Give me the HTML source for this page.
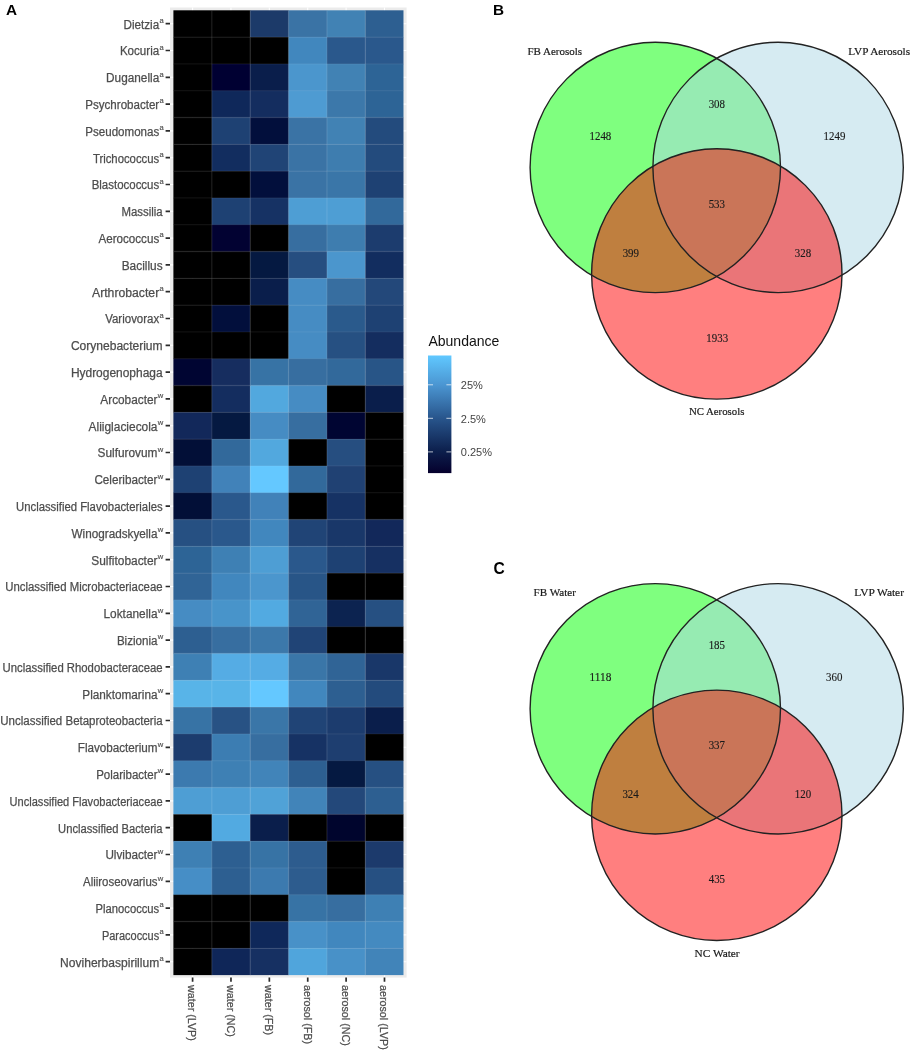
<!DOCTYPE html>
<html><head><meta charset="utf-8"><style>
html,body{margin:0;padding:0;background:#fff}
body{width:912px;height:1055px;position:relative;overflow:hidden}
svg{position:absolute;left:0;top:0}
.sans{font-family:"Liberation Sans",sans-serif}
.serif{font-family:"Liberation Serif",serif}
</style></head><body>
<svg width="912" height="1055" viewBox="0 0 912 1055" style="will-change:transform">
<text x="6.0" y="14.8" class="sans" font-weight="bold" font-size="15.3" fill="#000">A</text>
<text x="493.0" y="14.8" class="sans" font-weight="bold" font-size="15.3" fill="#000">B</text>
<text x="493.4" y="574.4" class="sans" font-weight="bold" font-size="15.6" fill="#000">C</text>
<rect x="170.0" y="7.5" width="236.60" height="970.10" fill="#ebebeb"/>
<path d="M170.0 23.70H406.6 M170.0 50.50H406.6 M170.0 77.30H406.6 M170.0 104.10H406.6 M170.0 130.90H406.6 M170.0 157.70H406.6 M170.0 184.50H406.6 M170.0 211.30H406.6 M170.0 238.10H406.6 M170.0 264.90H406.6 M170.0 291.70H406.6 M170.0 318.50H406.6 M170.0 345.30H406.6 M170.0 372.10H406.6 M170.0 398.90H406.6 M170.0 425.70H406.6 M170.0 452.50H406.6 M170.0 479.30H406.6 M170.0 506.10H406.6 M170.0 532.90H406.6 M170.0 559.70H406.6 M170.0 586.50H406.6 M170.0 613.30H406.6 M170.0 640.10H406.6 M170.0 666.90H406.6 M170.0 693.70H406.6 M170.0 720.50H406.6 M170.0 747.30H406.6 M170.0 774.10H406.6 M170.0 800.90H406.6 M170.0 827.70H406.6 M170.0 854.50H406.6 M170.0 881.30H406.6 M170.0 908.10H406.6 M170.0 934.90H406.6 M170.0 961.70H406.6 M192.59 7.5V977.6 M230.97 7.5V977.6 M269.35 7.5V977.6 M307.73 7.5V977.6 M346.11 7.5V977.6 M384.49 7.5V977.6" stroke="#fff" stroke-width="1.1" fill="none"/>
<rect x="173.40" y="10.30" width="38.68" height="27.10" fill="#000000"/><rect x="211.78" y="10.30" width="38.68" height="27.10" fill="#000000"/><rect x="250.16" y="10.30" width="38.68" height="27.10" fill="#1c3a69"/><rect x="288.54" y="10.30" width="38.68" height="27.10" fill="#3a73a5"/><rect x="326.92" y="10.30" width="38.68" height="27.10" fill="#4182b4"/><rect x="365.30" y="10.30" width="38.18" height="27.10" fill="#2d5f91"/>
<rect x="173.40" y="37.10" width="38.68" height="27.10" fill="#000000"/><rect x="211.78" y="37.10" width="38.68" height="27.10" fill="#000000"/><rect x="250.16" y="37.10" width="38.68" height="27.10" fill="#000000"/><rect x="288.54" y="37.10" width="38.68" height="27.10" fill="#4187be"/><rect x="326.92" y="37.10" width="38.68" height="27.10" fill="#2a588c"/><rect x="365.30" y="37.10" width="38.18" height="27.10" fill="#2a588c"/>
<rect x="173.40" y="63.90" width="38.68" height="27.10" fill="#000000"/><rect x="211.78" y="63.90" width="38.68" height="27.10" fill="#000032"/><rect x="250.16" y="63.90" width="38.68" height="27.10" fill="#0a1e4b"/><rect x="288.54" y="63.90" width="38.68" height="27.10" fill="#4b96cd"/><rect x="326.92" y="63.90" width="38.68" height="27.10" fill="#4182b4"/><rect x="365.30" y="63.90" width="38.18" height="27.10" fill="#2d6496"/>
<rect x="173.40" y="90.70" width="38.68" height="27.10" fill="#000000"/><rect x="211.78" y="90.70" width="38.68" height="27.10" fill="#0f285a"/><rect x="250.16" y="90.70" width="38.68" height="27.10" fill="#142d5f"/><rect x="288.54" y="90.70" width="38.68" height="27.10" fill="#4e9bd2"/><rect x="326.92" y="90.70" width="38.68" height="27.10" fill="#3c78aa"/><rect x="365.30" y="90.70" width="38.18" height="27.10" fill="#2d6496"/>
<rect x="173.40" y="117.50" width="38.68" height="27.10" fill="#000000"/><rect x="211.78" y="117.50" width="38.68" height="27.10" fill="#1e4173"/><rect x="250.16" y="117.50" width="38.68" height="27.10" fill="#020f3c"/><rect x="288.54" y="117.50" width="38.68" height="27.10" fill="#3a73a5"/><rect x="326.92" y="117.50" width="38.68" height="27.10" fill="#4182b4"/><rect x="365.30" y="117.50" width="38.18" height="27.10" fill="#234b7d"/>
<rect x="173.40" y="144.30" width="38.68" height="27.10" fill="#000000"/><rect x="211.78" y="144.30" width="38.68" height="27.10" fill="#122d5f"/><rect x="250.16" y="144.30" width="38.68" height="27.10" fill="#204476"/><rect x="288.54" y="144.30" width="38.68" height="27.10" fill="#3a73a5"/><rect x="326.92" y="144.30" width="38.68" height="27.10" fill="#3e7daf"/><rect x="365.30" y="144.30" width="38.18" height="27.10" fill="#234b7d"/>
<rect x="173.40" y="171.10" width="38.68" height="27.10" fill="#000000"/><rect x="211.78" y="171.10" width="38.68" height="27.10" fill="#000000"/><rect x="250.16" y="171.10" width="38.68" height="27.10" fill="#020f3c"/><rect x="288.54" y="171.10" width="38.68" height="27.10" fill="#3a73a5"/><rect x="326.92" y="171.10" width="38.68" height="27.10" fill="#3a76a8"/><rect x="365.30" y="171.10" width="38.18" height="27.10" fill="#1e4173"/>
<rect x="173.40" y="197.90" width="38.68" height="27.10" fill="#000000"/><rect x="211.78" y="197.90" width="38.68" height="27.10" fill="#1e4173"/><rect x="250.16" y="197.90" width="38.68" height="27.10" fill="#163264"/><rect x="288.54" y="197.90" width="38.68" height="27.10" fill="#4e9ed4"/><rect x="326.92" y="197.90" width="38.68" height="27.10" fill="#4e9ed4"/><rect x="365.30" y="197.90" width="38.18" height="27.10" fill="#32699b"/>
<rect x="173.40" y="224.70" width="38.68" height="27.10" fill="#000000"/><rect x="211.78" y="224.70" width="38.68" height="27.10" fill="#020232"/><rect x="250.16" y="224.70" width="38.68" height="27.10" fill="#000000"/><rect x="288.54" y="224.70" width="38.68" height="27.10" fill="#376ea0"/><rect x="326.92" y="224.70" width="38.68" height="27.10" fill="#3e7daf"/><rect x="365.30" y="224.70" width="38.18" height="27.10" fill="#1c3c6e"/>
<rect x="173.40" y="251.50" width="38.68" height="27.10" fill="#000000"/><rect x="211.78" y="251.50" width="38.68" height="27.10" fill="#000000"/><rect x="250.16" y="251.50" width="38.68" height="27.10" fill="#051941"/><rect x="288.54" y="251.50" width="38.68" height="27.10" fill="#264e80"/><rect x="326.92" y="251.50" width="38.68" height="27.10" fill="#4b96cd"/><rect x="365.30" y="251.50" width="38.18" height="27.10" fill="#122d5f"/>
<rect x="173.40" y="278.30" width="38.68" height="27.10" fill="#000000"/><rect x="211.78" y="278.30" width="38.68" height="27.10" fill="#000000"/><rect x="250.16" y="278.30" width="38.68" height="27.10" fill="#0a1e4b"/><rect x="288.54" y="278.30" width="38.68" height="27.10" fill="#468cc3"/><rect x="326.92" y="278.30" width="38.68" height="27.10" fill="#376ea0"/><rect x="365.30" y="278.30" width="38.18" height="27.10" fill="#23487a"/>
<rect x="173.40" y="305.10" width="38.68" height="27.10" fill="#000000"/><rect x="211.78" y="305.10" width="38.68" height="27.10" fill="#020f3c"/><rect x="250.16" y="305.10" width="38.68" height="27.10" fill="#000000"/><rect x="288.54" y="305.10" width="38.68" height="27.10" fill="#468cc3"/><rect x="326.92" y="305.10" width="38.68" height="27.10" fill="#2a5a8c"/><rect x="365.30" y="305.10" width="38.18" height="27.10" fill="#1e4173"/>
<rect x="173.40" y="331.90" width="38.68" height="27.10" fill="#000000"/><rect x="211.78" y="331.90" width="38.68" height="27.10" fill="#000000"/><rect x="250.16" y="331.90" width="38.68" height="27.10" fill="#000000"/><rect x="288.54" y="331.90" width="38.68" height="27.10" fill="#468cc3"/><rect x="326.92" y="331.90" width="38.68" height="27.10" fill="#265082"/><rect x="365.30" y="331.90" width="38.18" height="27.10" fill="#142d5f"/>
<rect x="173.40" y="358.70" width="38.68" height="27.10" fill="#000532"/><rect x="211.78" y="358.70" width="38.68" height="27.10" fill="#162d5f"/><rect x="250.16" y="358.70" width="38.68" height="27.10" fill="#3773a5"/><rect x="288.54" y="358.70" width="38.68" height="27.10" fill="#376ea0"/><rect x="326.92" y="358.70" width="38.68" height="27.10" fill="#32699b"/><rect x="365.30" y="358.70" width="38.18" height="27.10" fill="#285587"/>
<rect x="173.40" y="385.50" width="38.68" height="27.10" fill="#000000"/><rect x="211.78" y="385.50" width="38.68" height="27.10" fill="#142d5f"/><rect x="250.16" y="385.50" width="38.68" height="27.10" fill="#52a8de"/><rect x="288.54" y="385.50" width="38.68" height="27.10" fill="#468cc3"/><rect x="326.92" y="385.50" width="38.68" height="27.10" fill="#000000"/><rect x="365.30" y="385.50" width="38.18" height="27.10" fill="#0a1e4b"/>
<rect x="173.40" y="412.30" width="38.68" height="27.10" fill="#12285a"/><rect x="211.78" y="412.30" width="38.68" height="27.10" fill="#051941"/><rect x="250.16" y="412.30" width="38.68" height="27.10" fill="#468cc3"/><rect x="288.54" y="412.30" width="38.68" height="27.10" fill="#376ea0"/><rect x="326.92" y="412.30" width="38.68" height="27.10" fill="#000532"/><rect x="365.30" y="412.30" width="38.18" height="27.10" fill="#000000"/>
<rect x="173.40" y="439.10" width="38.68" height="27.10" fill="#020f37"/><rect x="211.78" y="439.10" width="38.68" height="27.10" fill="#32699b"/><rect x="250.16" y="439.10" width="38.68" height="27.10" fill="#52a8de"/><rect x="288.54" y="439.10" width="38.68" height="27.10" fill="#000000"/><rect x="326.92" y="439.10" width="38.68" height="27.10" fill="#264e80"/><rect x="365.30" y="439.10" width="38.18" height="27.10" fill="#000000"/>
<rect x="173.40" y="465.90" width="38.68" height="27.10" fill="#1e4173"/><rect x="211.78" y="465.90" width="38.68" height="27.10" fill="#4182b9"/><rect x="250.16" y="465.90" width="38.68" height="27.10" fill="#64c8ff"/><rect x="288.54" y="465.90" width="38.68" height="27.10" fill="#32699b"/><rect x="326.92" y="465.90" width="38.68" height="27.10" fill="#204173"/><rect x="365.30" y="465.90" width="38.18" height="27.10" fill="#000000"/>
<rect x="173.40" y="492.70" width="38.68" height="27.10" fill="#020f37"/><rect x="211.78" y="492.70" width="38.68" height="27.10" fill="#2a588c"/><rect x="250.16" y="492.70" width="38.68" height="27.10" fill="#4182b9"/><rect x="288.54" y="492.70" width="38.68" height="27.10" fill="#000000"/><rect x="326.92" y="492.70" width="38.68" height="27.10" fill="#163264"/><rect x="365.30" y="492.70" width="38.18" height="27.10" fill="#000000"/>
<rect x="173.40" y="519.50" width="38.68" height="27.10" fill="#265082"/><rect x="211.78" y="519.50" width="38.68" height="27.10" fill="#2a588c"/><rect x="250.16" y="519.50" width="38.68" height="27.10" fill="#4187be"/><rect x="288.54" y="519.50" width="38.68" height="27.10" fill="#204476"/><rect x="326.92" y="519.50" width="38.68" height="27.10" fill="#193769"/><rect x="365.30" y="519.50" width="38.18" height="27.10" fill="#12285a"/>
<rect x="173.40" y="546.30" width="38.68" height="27.10" fill="#2d6496"/><rect x="211.78" y="546.30" width="38.68" height="27.10" fill="#3e80b4"/><rect x="250.16" y="546.30" width="38.68" height="27.10" fill="#4e9ed4"/><rect x="288.54" y="546.30" width="38.68" height="27.10" fill="#2a588c"/><rect x="326.92" y="546.30" width="38.68" height="27.10" fill="#1e4173"/><rect x="365.30" y="546.30" width="38.18" height="27.10" fill="#163062"/>
<rect x="173.40" y="573.10" width="38.68" height="27.10" fill="#306496"/><rect x="211.78" y="573.10" width="38.68" height="27.10" fill="#4187be"/><rect x="250.16" y="573.10" width="38.68" height="27.10" fill="#4b96cd"/><rect x="288.54" y="573.10" width="38.68" height="27.10" fill="#285587"/><rect x="326.92" y="573.10" width="38.68" height="27.10" fill="#000000"/><rect x="365.30" y="573.10" width="38.18" height="27.10" fill="#000000"/>
<rect x="173.40" y="599.90" width="38.68" height="27.10" fill="#468cc3"/><rect x="211.78" y="599.90" width="38.68" height="27.10" fill="#4894ca"/><rect x="250.16" y="599.90" width="38.68" height="27.10" fill="#52aae1"/><rect x="288.54" y="599.90" width="38.68" height="27.10" fill="#306496"/><rect x="326.92" y="599.90" width="38.68" height="27.10" fill="#0c2350"/><rect x="365.30" y="599.90" width="38.18" height="27.10" fill="#265082"/>
<rect x="173.40" y="626.70" width="38.68" height="27.10" fill="#2d5f91"/><rect x="211.78" y="626.70" width="38.68" height="27.10" fill="#376ea0"/><rect x="250.16" y="626.70" width="38.68" height="27.10" fill="#3c78aa"/><rect x="288.54" y="626.70" width="38.68" height="27.10" fill="#204476"/><rect x="326.92" y="626.70" width="38.68" height="27.10" fill="#000000"/><rect x="365.30" y="626.70" width="38.18" height="27.10" fill="#000000"/>
<rect x="173.40" y="653.50" width="38.68" height="27.10" fill="#3e80b4"/><rect x="211.78" y="653.50" width="38.68" height="27.10" fill="#55ace4"/><rect x="250.16" y="653.50" width="38.68" height="27.10" fill="#55ace4"/><rect x="288.54" y="653.50" width="38.68" height="27.10" fill="#3a76a8"/><rect x="326.92" y="653.50" width="38.68" height="27.10" fill="#306496"/><rect x="365.30" y="653.50" width="38.18" height="27.10" fill="#193769"/>
<rect x="173.40" y="680.30" width="38.68" height="27.10" fill="#58b4e8"/><rect x="211.78" y="680.30" width="38.68" height="27.10" fill="#58b4e8"/><rect x="250.16" y="680.30" width="38.68" height="27.10" fill="#64c8ff"/><rect x="288.54" y="680.30" width="38.68" height="27.10" fill="#4187be"/><rect x="326.92" y="680.30" width="38.68" height="27.10" fill="#2d5f91"/><rect x="365.30" y="680.30" width="38.18" height="27.10" fill="#234b7d"/>
<rect x="173.40" y="707.10" width="38.68" height="27.10" fill="#3773a5"/><rect x="211.78" y="707.10" width="38.68" height="27.10" fill="#285284"/><rect x="250.16" y="707.10" width="38.68" height="27.10" fill="#3a76a8"/><rect x="288.54" y="707.10" width="38.68" height="27.10" fill="#204476"/><rect x="326.92" y="707.10" width="38.68" height="27.10" fill="#1c3c6e"/><rect x="365.30" y="707.10" width="38.18" height="27.10" fill="#0a1e4b"/>
<rect x="173.40" y="733.90" width="38.68" height="27.10" fill="#1c3c6e"/><rect x="211.78" y="733.90" width="38.68" height="27.10" fill="#3c7db2"/><rect x="250.16" y="733.90" width="38.68" height="27.10" fill="#376ea0"/><rect x="288.54" y="733.90" width="38.68" height="27.10" fill="#163264"/><rect x="326.92" y="733.90" width="38.68" height="27.10" fill="#1e3e70"/><rect x="365.30" y="733.90" width="38.18" height="27.10" fill="#000000"/>
<rect x="173.40" y="760.70" width="38.68" height="27.10" fill="#3c7aaf"/><rect x="211.78" y="760.70" width="38.68" height="27.10" fill="#3e80b4"/><rect x="250.16" y="760.70" width="38.68" height="27.10" fill="#4184b9"/><rect x="288.54" y="760.70" width="38.68" height="27.10" fill="#2d5f91"/><rect x="326.92" y="760.70" width="38.68" height="27.10" fill="#051941"/><rect x="365.30" y="760.70" width="38.18" height="27.10" fill="#265082"/>
<rect x="173.40" y="787.50" width="38.68" height="27.10" fill="#4e9ed4"/><rect x="211.78" y="787.50" width="38.68" height="27.10" fill="#4e9ed4"/><rect x="250.16" y="787.50" width="38.68" height="27.10" fill="#50a2d7"/><rect x="288.54" y="787.50" width="38.68" height="27.10" fill="#4184b9"/><rect x="326.92" y="787.50" width="38.68" height="27.10" fill="#23487a"/><rect x="365.30" y="787.50" width="38.18" height="27.10" fill="#2d5f91"/>
<rect x="173.40" y="814.30" width="38.68" height="27.10" fill="#000000"/><rect x="211.78" y="814.30" width="38.68" height="27.10" fill="#52aae1"/><rect x="250.16" y="814.30" width="38.68" height="27.10" fill="#0a1e4b"/><rect x="288.54" y="814.30" width="38.68" height="27.10" fill="#000000"/><rect x="326.92" y="814.30" width="38.68" height="27.10" fill="#00052d"/><rect x="365.30" y="814.30" width="38.18" height="27.10" fill="#000000"/>
<rect x="173.40" y="841.10" width="38.68" height="27.10" fill="#3e80b4"/><rect x="211.78" y="841.10" width="38.68" height="27.10" fill="#2d5f91"/><rect x="250.16" y="841.10" width="38.68" height="27.10" fill="#3773a5"/><rect x="288.54" y="841.10" width="38.68" height="27.10" fill="#2d5c8e"/><rect x="326.92" y="841.10" width="38.68" height="27.10" fill="#000000"/><rect x="365.30" y="841.10" width="38.18" height="27.10" fill="#1c3a6c"/>
<rect x="173.40" y="867.90" width="38.68" height="27.10" fill="#468ec6"/><rect x="211.78" y="867.90" width="38.68" height="27.10" fill="#2d5f91"/><rect x="250.16" y="867.90" width="38.68" height="27.10" fill="#3c7aaf"/><rect x="288.54" y="867.90" width="38.68" height="27.10" fill="#2d5c8e"/><rect x="326.92" y="867.90" width="38.68" height="27.10" fill="#000000"/><rect x="365.30" y="867.90" width="38.18" height="27.10" fill="#265082"/>
<rect x="173.40" y="894.70" width="38.68" height="27.10" fill="#000000"/><rect x="211.78" y="894.70" width="38.68" height="27.10" fill="#000000"/><rect x="250.16" y="894.70" width="38.68" height="27.10" fill="#000000"/><rect x="288.54" y="894.70" width="38.68" height="27.10" fill="#3773a5"/><rect x="326.92" y="894.70" width="38.68" height="27.10" fill="#376ea0"/><rect x="365.30" y="894.70" width="38.18" height="27.10" fill="#3e80b4"/>
<rect x="173.40" y="921.50" width="38.68" height="27.10" fill="#000000"/><rect x="211.78" y="921.50" width="38.68" height="27.10" fill="#000000"/><rect x="250.16" y="921.50" width="38.68" height="27.10" fill="#0f285a"/><rect x="288.54" y="921.50" width="38.68" height="27.10" fill="#4891c8"/><rect x="326.92" y="921.50" width="38.68" height="27.10" fill="#4187be"/><rect x="365.30" y="921.50" width="38.18" height="27.10" fill="#448ac0"/>
<rect x="173.40" y="948.30" width="38.68" height="26.80" fill="#000000"/><rect x="211.78" y="948.30" width="38.68" height="26.80" fill="#0f2658"/><rect x="250.16" y="948.30" width="38.68" height="26.80" fill="#163062"/><rect x="288.54" y="948.30" width="38.68" height="26.80" fill="#50a5dc"/><rect x="326.92" y="948.30" width="38.68" height="26.80" fill="#4891c8"/><rect x="365.30" y="948.30" width="38.18" height="26.80" fill="#4184b9"/>
<path d="M211.78 10.30V975.10 M250.16 10.30V975.10 M288.54 10.30V975.10 M326.92 10.30V975.10 M365.30 10.30V975.10" stroke="#fff" stroke-opacity="0.11" stroke-width="1.3" fill="none"/>
<path d="M173.40 37.10H403.68 M173.40 63.90H403.68 M173.40 90.70H403.68 M173.40 117.50H403.68 M173.40 144.30H403.68 M173.40 171.10H403.68 M173.40 197.90H403.68 M173.40 224.70H403.68 M173.40 251.50H403.68 M173.40 278.30H403.68 M173.40 305.10H403.68 M173.40 331.90H403.68 M173.40 358.70H403.68 M173.40 385.50H403.68 M173.40 412.30H403.68 M173.40 439.10H403.68 M173.40 465.90H403.68 M173.40 492.70H403.68 M173.40 519.50H403.68 M173.40 546.30H403.68 M173.40 573.10H403.68 M173.40 599.90H403.68 M173.40 626.70H403.68 M173.40 653.50H403.68 M173.40 680.30H403.68 M173.40 707.10H403.68 M173.40 733.90H403.68 M173.40 760.70H403.68 M173.40 787.50H403.68 M173.40 814.30H403.68 M173.40 841.10H403.68 M173.40 867.90H403.68 M173.40 894.70H403.68 M173.40 921.50H403.68 M173.40 948.30H403.68" stroke="#fff" stroke-opacity="0.065" stroke-width="1.3" fill="none"/>
<path d="M165.6 23.70H170 M165.6 50.50H170 M165.6 77.30H170 M165.6 104.10H170 M165.6 130.90H170 M165.6 157.70H170 M165.6 184.50H170 M165.6 211.30H170 M165.6 238.10H170 M165.6 264.90H170 M165.6 291.70H170 M165.6 318.50H170 M165.6 345.30H170 M165.6 372.10H170 M165.6 398.90H170 M165.6 425.70H170 M165.6 452.50H170 M165.6 479.30H170 M165.6 506.10H170 M165.6 532.90H170 M165.6 559.70H170 M165.6 586.50H170 M165.6 613.30H170 M165.6 640.10H170 M165.6 666.90H170 M165.6 693.70H170 M165.6 720.50H170 M165.6 747.30H170 M165.6 774.10H170 M165.6 800.90H170 M165.6 827.70H170 M165.6 854.50H170 M165.6 881.30H170 M165.6 908.10H170 M165.6 934.90H170 M165.6 961.70H170 M192.59 977.4V981.8 M230.97 977.4V981.8 M269.35 977.4V981.8 M307.73 977.4V981.8 M346.11 977.4V981.8 M384.49 977.4V981.8" stroke="#2b2b2b" stroke-width="1.7" fill="none"/>
<text x="123.50" y="28.50" textLength="35.70" lengthAdjust="spacingAndGlyphs" class="sans" font-size="12" fill="#4d4d4d" stroke="#4d4d4d" stroke-width="0.25">Dietzia</text><text x="159.60" y="22.90" class="sans" font-size="7.6" fill="#4d4d4d" stroke="#4d4d4d" stroke-width="0.15">a</text>
<text x="119.90" y="55.30" textLength="39.30" lengthAdjust="spacingAndGlyphs" class="sans" font-size="12" fill="#4d4d4d" stroke="#4d4d4d" stroke-width="0.25">Kocuria</text><text x="159.60" y="49.70" class="sans" font-size="7.6" fill="#4d4d4d" stroke="#4d4d4d" stroke-width="0.15">a</text>
<text x="106.10" y="82.10" textLength="53.10" lengthAdjust="spacingAndGlyphs" class="sans" font-size="12" fill="#4d4d4d" stroke="#4d4d4d" stroke-width="0.25">Duganella</text><text x="159.60" y="76.50" class="sans" font-size="7.6" fill="#4d4d4d" stroke="#4d4d4d" stroke-width="0.15">a</text>
<text x="85.30" y="108.90" textLength="73.90" lengthAdjust="spacingAndGlyphs" class="sans" font-size="12" fill="#4d4d4d" stroke="#4d4d4d" stroke-width="0.25">Psychrobacter</text><text x="159.60" y="103.30" class="sans" font-size="7.6" fill="#4d4d4d" stroke="#4d4d4d" stroke-width="0.15">a</text>
<text x="85.30" y="135.70" textLength="73.90" lengthAdjust="spacingAndGlyphs" class="sans" font-size="12" fill="#4d4d4d" stroke="#4d4d4d" stroke-width="0.25">Pseudomonas</text><text x="159.60" y="130.10" class="sans" font-size="7.6" fill="#4d4d4d" stroke="#4d4d4d" stroke-width="0.15">a</text>
<text x="92.90" y="162.50" textLength="66.30" lengthAdjust="spacingAndGlyphs" class="sans" font-size="12" fill="#4d4d4d" stroke="#4d4d4d" stroke-width="0.25">Trichococcus</text><text x="159.60" y="156.90" class="sans" font-size="7.6" fill="#4d4d4d" stroke="#4d4d4d" stroke-width="0.15">a</text>
<text x="91.70" y="189.30" textLength="67.50" lengthAdjust="spacingAndGlyphs" class="sans" font-size="12" fill="#4d4d4d" stroke="#4d4d4d" stroke-width="0.25">Blastococcus</text><text x="159.60" y="183.70" class="sans" font-size="7.6" fill="#4d4d4d" stroke="#4d4d4d" stroke-width="0.15">a</text>
<text x="121.40" y="216.10" textLength="41.20" lengthAdjust="spacingAndGlyphs" class="sans" font-size="12" fill="#4d4d4d" stroke="#4d4d4d" stroke-width="0.25">Massilia</text>
<text x="98.50" y="242.90" textLength="60.70" lengthAdjust="spacingAndGlyphs" class="sans" font-size="12" fill="#4d4d4d" stroke="#4d4d4d" stroke-width="0.25">Aerococcus</text><text x="159.60" y="237.30" class="sans" font-size="7.6" fill="#4d4d4d" stroke="#4d4d4d" stroke-width="0.15">a</text>
<text x="121.70" y="269.70" textLength="40.90" lengthAdjust="spacingAndGlyphs" class="sans" font-size="12" fill="#4d4d4d" stroke="#4d4d4d" stroke-width="0.25">Bacillus</text>
<text x="92.00" y="296.50" textLength="67.20" lengthAdjust="spacingAndGlyphs" class="sans" font-size="12" fill="#4d4d4d" stroke="#4d4d4d" stroke-width="0.25">Arthrobacter</text><text x="159.60" y="290.90" class="sans" font-size="7.6" fill="#4d4d4d" stroke="#4d4d4d" stroke-width="0.15">a</text>
<text x="105.20" y="323.30" textLength="54.00" lengthAdjust="spacingAndGlyphs" class="sans" font-size="12" fill="#4d4d4d" stroke="#4d4d4d" stroke-width="0.25">Variovorax</text><text x="159.60" y="317.70" class="sans" font-size="7.6" fill="#4d4d4d" stroke="#4d4d4d" stroke-width="0.15">a</text>
<text x="70.90" y="350.10" textLength="91.70" lengthAdjust="spacingAndGlyphs" class="sans" font-size="12" fill="#4d4d4d" stroke="#4d4d4d" stroke-width="0.25">Corynebacterium</text>
<text x="70.90" y="376.90" textLength="91.70" lengthAdjust="spacingAndGlyphs" class="sans" font-size="12" fill="#4d4d4d" stroke="#4d4d4d" stroke-width="0.25">Hydrogenophaga</text>
<text x="100.30" y="403.70" textLength="57.20" lengthAdjust="spacingAndGlyphs" class="sans" font-size="12" fill="#4d4d4d" stroke="#4d4d4d" stroke-width="0.25">Arcobacter</text><text x="157.80" y="398.10" class="sans" font-size="7.6" fill="#4d4d4d" stroke="#4d4d4d" stroke-width="0.15">w</text>
<text x="88.60" y="430.50" textLength="68.90" lengthAdjust="spacingAndGlyphs" class="sans" font-size="12" fill="#4d4d4d" stroke="#4d4d4d" stroke-width="0.25">Aliiglaciecola</text><text x="157.80" y="424.90" class="sans" font-size="7.6" fill="#4d4d4d" stroke="#4d4d4d" stroke-width="0.15">w</text>
<text x="97.60" y="457.30" textLength="59.90" lengthAdjust="spacingAndGlyphs" class="sans" font-size="12" fill="#4d4d4d" stroke="#4d4d4d" stroke-width="0.25">Sulfurovum</text><text x="157.80" y="451.70" class="sans" font-size="7.6" fill="#4d4d4d" stroke="#4d4d4d" stroke-width="0.15">w</text>
<text x="94.40" y="484.10" textLength="63.10" lengthAdjust="spacingAndGlyphs" class="sans" font-size="12" fill="#4d4d4d" stroke="#4d4d4d" stroke-width="0.25">Celeribacter</text><text x="157.80" y="478.50" class="sans" font-size="7.6" fill="#4d4d4d" stroke="#4d4d4d" stroke-width="0.15">w</text>
<text x="16.00" y="510.90" textLength="146.60" lengthAdjust="spacingAndGlyphs" class="sans" font-size="12" fill="#4d4d4d" stroke="#4d4d4d" stroke-width="0.25">Unclassified Flavobacteriales</text>
<text x="71.50" y="537.70" textLength="86.00" lengthAdjust="spacingAndGlyphs" class="sans" font-size="12" fill="#4d4d4d" stroke="#4d4d4d" stroke-width="0.25">Winogradskyella</text><text x="157.80" y="532.10" class="sans" font-size="7.6" fill="#4d4d4d" stroke="#4d4d4d" stroke-width="0.15">w</text>
<text x="91.30" y="564.50" textLength="66.20" lengthAdjust="spacingAndGlyphs" class="sans" font-size="12" fill="#4d4d4d" stroke="#4d4d4d" stroke-width="0.25">Sulfitobacter</text><text x="157.80" y="558.90" class="sans" font-size="7.6" fill="#4d4d4d" stroke="#4d4d4d" stroke-width="0.15">w</text>
<text x="5.20" y="591.30" textLength="157.40" lengthAdjust="spacingAndGlyphs" class="sans" font-size="12" fill="#4d4d4d" stroke="#4d4d4d" stroke-width="0.25">Unclassified Microbacteriaceae</text>
<text x="103.50" y="618.10" textLength="54.00" lengthAdjust="spacingAndGlyphs" class="sans" font-size="12" fill="#4d4d4d" stroke="#4d4d4d" stroke-width="0.25">Loktanella</text><text x="157.80" y="612.50" class="sans" font-size="7.6" fill="#4d4d4d" stroke="#4d4d4d" stroke-width="0.15">w</text>
<text x="116.90" y="644.90" textLength="40.60" lengthAdjust="spacingAndGlyphs" class="sans" font-size="12" fill="#4d4d4d" stroke="#4d4d4d" stroke-width="0.25">Bizionia</text><text x="157.80" y="639.30" class="sans" font-size="7.6" fill="#4d4d4d" stroke="#4d4d4d" stroke-width="0.15">w</text>
<text x="2.60" y="671.70" textLength="160.00" lengthAdjust="spacingAndGlyphs" class="sans" font-size="12" fill="#4d4d4d" stroke="#4d4d4d" stroke-width="0.25">Unclassified Rhodobacteraceae</text>
<text x="82.30" y="698.50" textLength="75.20" lengthAdjust="spacingAndGlyphs" class="sans" font-size="12" fill="#4d4d4d" stroke="#4d4d4d" stroke-width="0.25">Planktomarina</text><text x="157.80" y="692.90" class="sans" font-size="7.6" fill="#4d4d4d" stroke="#4d4d4d" stroke-width="0.15">w</text>
<text x="0.30" y="725.30" textLength="162.30" lengthAdjust="spacingAndGlyphs" class="sans" font-size="12" fill="#4d4d4d" stroke="#4d4d4d" stroke-width="0.25">Unclassified Betaproteobacteria</text>
<text x="77.80" y="752.10" textLength="79.70" lengthAdjust="spacingAndGlyphs" class="sans" font-size="12" fill="#4d4d4d" stroke="#4d4d4d" stroke-width="0.25">Flavobacterium</text><text x="157.80" y="746.50" class="sans" font-size="7.6" fill="#4d4d4d" stroke="#4d4d4d" stroke-width="0.15">w</text>
<text x="96.20" y="778.90" textLength="61.30" lengthAdjust="spacingAndGlyphs" class="sans" font-size="12" fill="#4d4d4d" stroke="#4d4d4d" stroke-width="0.25">Polaribacter</text><text x="157.80" y="773.30" class="sans" font-size="7.6" fill="#4d4d4d" stroke="#4d4d4d" stroke-width="0.15">w</text>
<text x="9.60" y="805.70" textLength="153.00" lengthAdjust="spacingAndGlyphs" class="sans" font-size="12" fill="#4d4d4d" stroke="#4d4d4d" stroke-width="0.25">Unclassified Flavobacteriaceae</text>
<text x="58.10" y="832.50" textLength="104.50" lengthAdjust="spacingAndGlyphs" class="sans" font-size="12" fill="#4d4d4d" stroke="#4d4d4d" stroke-width="0.25">Unclassified Bacteria</text>
<text x="105.40" y="859.30" textLength="52.10" lengthAdjust="spacingAndGlyphs" class="sans" font-size="12" fill="#4d4d4d" stroke="#4d4d4d" stroke-width="0.25">Ulvibacter</text><text x="157.80" y="853.70" class="sans" font-size="7.6" fill="#4d4d4d" stroke="#4d4d4d" stroke-width="0.15">w</text>
<text x="83.00" y="886.10" textLength="74.50" lengthAdjust="spacingAndGlyphs" class="sans" font-size="12" fill="#4d4d4d" stroke="#4d4d4d" stroke-width="0.25">Aliiroseovarius</text><text x="157.80" y="880.50" class="sans" font-size="7.6" fill="#4d4d4d" stroke="#4d4d4d" stroke-width="0.15">w</text>
<text x="95.60" y="912.90" textLength="63.60" lengthAdjust="spacingAndGlyphs" class="sans" font-size="12" fill="#4d4d4d" stroke="#4d4d4d" stroke-width="0.25">Planococcus</text><text x="159.60" y="907.30" class="sans" font-size="7.6" fill="#4d4d4d" stroke="#4d4d4d" stroke-width="0.15">a</text>
<text x="101.90" y="939.70" textLength="57.30" lengthAdjust="spacingAndGlyphs" class="sans" font-size="12" fill="#4d4d4d" stroke="#4d4d4d" stroke-width="0.25">Paracoccus</text><text x="159.60" y="934.10" class="sans" font-size="7.6" fill="#4d4d4d" stroke="#4d4d4d" stroke-width="0.15">a</text>
<text x="60.10" y="966.50" textLength="99.10" lengthAdjust="spacingAndGlyphs" class="sans" font-size="12" fill="#4d4d4d" stroke="#4d4d4d" stroke-width="0.25">Noviherbaspirillum</text><text x="159.60" y="960.90" class="sans" font-size="7.6" fill="#4d4d4d" stroke="#4d4d4d" stroke-width="0.15">a</text>
<g transform="translate(192.59 985) rotate(90) scale(0.934 1)"><text x="0" y="4.2" class="sans" font-size="11.5" fill="#4d4d4d" stroke="#4d4d4d" stroke-width="0.25">water (LVP)</text></g>
<g transform="translate(230.97 985) rotate(90) scale(0.934 1)"><text x="0" y="4.2" class="sans" font-size="11.5" fill="#4d4d4d" stroke="#4d4d4d" stroke-width="0.25">water (NC)</text></g>
<g transform="translate(269.35 985) rotate(90) scale(0.934 1)"><text x="0" y="4.2" class="sans" font-size="11.5" fill="#4d4d4d" stroke="#4d4d4d" stroke-width="0.25">water (FB)</text></g>
<g transform="translate(307.73 985) rotate(90) scale(0.934 1)"><text x="0" y="4.2" class="sans" font-size="11.5" fill="#4d4d4d" stroke="#4d4d4d" stroke-width="0.25">aerosol (FB)</text></g>
<g transform="translate(346.11 985) rotate(90) scale(0.934 1)"><text x="0" y="4.2" class="sans" font-size="11.5" fill="#4d4d4d" stroke="#4d4d4d" stroke-width="0.25">aerosol (NC)</text></g>
<g transform="translate(384.49 985) rotate(90) scale(0.934 1)"><text x="0" y="4.2" class="sans" font-size="11.5" fill="#4d4d4d" stroke="#4d4d4d" stroke-width="0.25">aerosol (LVP)</text></g>
<defs><linearGradient id="lg" x1="0" y1="0" x2="0" y2="1">
<stop offset="0" stop-color="#60c8ff"/>
<stop offset="0.249" stop-color="#4b96d2"/>
<stop offset="0.534" stop-color="#28558c"/>
<stop offset="0.82" stop-color="#0c1e4b"/>
<stop offset="1" stop-color="#05002d"/>
</linearGradient></defs>
<rect x="428" y="355.5" width="23.4" height="117.6" fill="url(#lg)"/>
<path d="M428 384.8h5M446.4 384.8h5M428 418.3h5M446.4 418.3h5M428 451.9h5M446.4 451.9h5" stroke="#fff" stroke-opacity="0.7" stroke-width="1"/>
<text x="428.4" y="345.7" class="sans" font-size="15" fill="#111" textLength="71" lengthAdjust="spacingAndGlyphs">Abundance</text>
<text x="460.8" y="389.2" class="sans" font-size="11" fill="#444">25%</text>
<text x="460.8" y="422.7" class="sans" font-size="11" fill="#444">2.5%</text>
<text x="460.8" y="456.3" class="sans" font-size="11" fill="#444">0.25%</text>
</svg>
<svg width="912" height="1055" viewBox="0 0 912 1055">
<circle cx="655.3" cy="167.4" r="125.2" fill="#00ff00" fill-opacity="0.5"/>
<circle cx="778.1" cy="167.4" r="125.2" fill="#add8e6" fill-opacity="0.5"/>
<circle cx="716.8" cy="273.9" r="125.2" fill="#ff0000" fill-opacity="0.5"/>
<circle cx="655.3" cy="167.4" r="125.2" fill="none" stroke="#222" stroke-width="1.4"/>
<circle cx="778.1" cy="167.4" r="125.2" fill="none" stroke="#222" stroke-width="1.4"/>
<circle cx="716.8" cy="273.9" r="125.2" fill="none" stroke="#222" stroke-width="1.4"/>
<text x="527.4000000000001" y="55.1" class="serif" font-size="11.3" fill="#1a1a1a" stroke="#1a1a1a" stroke-width="0.2" textLength="54.6" lengthAdjust="spacingAndGlyphs">FB Aerosols</text>
<text x="848.2" y="55.0" class="serif" font-size="11.3" fill="#1a1a1a" stroke="#1a1a1a" stroke-width="0.2" textLength="61.9" lengthAdjust="spacingAndGlyphs">LVP Aerosols</text>
<text x="688.9000000000001" y="415.3" class="serif" font-size="11.3" fill="#1a1a1a" stroke="#1a1a1a" stroke-width="0.2" textLength="55.5" lengthAdjust="spacingAndGlyphs">NC Aerosols</text>
<text x="600.4" y="139.85" text-anchor="middle" class="serif" font-size="12" fill="#1a1a1a" stroke="#1a1a1a" stroke-width="0.15" textLength="21.80" lengthAdjust="spacingAndGlyphs">1248</text>
<text x="716.8" y="108.3" text-anchor="middle" class="serif" font-size="12" fill="#1a1a1a" stroke="#1a1a1a" stroke-width="0.15" textLength="16.35" lengthAdjust="spacingAndGlyphs">308</text>
<text x="834.5" y="139.8" text-anchor="middle" class="serif" font-size="12" fill="#1a1a1a" stroke="#1a1a1a" stroke-width="0.15" textLength="21.80" lengthAdjust="spacingAndGlyphs">1249</text>
<text x="716.8" y="207.5" text-anchor="middle" class="serif" font-size="12" fill="#1a1a1a" stroke="#1a1a1a" stroke-width="0.15" textLength="16.35" lengthAdjust="spacingAndGlyphs">533</text>
<text x="630.8" y="257.0" text-anchor="middle" class="serif" font-size="12" fill="#1a1a1a" stroke="#1a1a1a" stroke-width="0.15" textLength="16.35" lengthAdjust="spacingAndGlyphs">399</text>
<text x="803.0" y="257.0" text-anchor="middle" class="serif" font-size="12" fill="#1a1a1a" stroke="#1a1a1a" stroke-width="0.15" textLength="16.35" lengthAdjust="spacingAndGlyphs">328</text>
<text x="717.2" y="342.0" text-anchor="middle" class="serif" font-size="12" fill="#1a1a1a" stroke="#1a1a1a" stroke-width="0.15" textLength="21.80" lengthAdjust="spacingAndGlyphs">1933</text>
<circle cx="655.3" cy="708.8" r="125.2" fill="#00ff00" fill-opacity="0.5"/>
<circle cx="778.1" cy="708.8" r="125.2" fill="#add8e6" fill-opacity="0.5"/>
<circle cx="716.8" cy="815.3" r="125.2" fill="#ff0000" fill-opacity="0.5"/>
<circle cx="655.3" cy="708.8" r="125.2" fill="none" stroke="#222" stroke-width="1.4"/>
<circle cx="778.1" cy="708.8" r="125.2" fill="none" stroke="#222" stroke-width="1.4"/>
<circle cx="716.8" cy="815.3" r="125.2" fill="none" stroke="#222" stroke-width="1.4"/>
<text x="533.6" y="596.4" class="serif" font-size="11.3" fill="#1a1a1a" stroke="#1a1a1a" stroke-width="0.2" textLength="42.3" lengthAdjust="spacingAndGlyphs">FB Water</text>
<text x="854.3000000000001" y="596.4" class="serif" font-size="11.3" fill="#1a1a1a" stroke="#1a1a1a" stroke-width="0.2" textLength="49.7" lengthAdjust="spacingAndGlyphs">LVP Water</text>
<text x="694.6" y="956.5999999999999" class="serif" font-size="11.3" fill="#1a1a1a" stroke="#1a1a1a" stroke-width="0.2" textLength="45.0" lengthAdjust="spacingAndGlyphs">NC Water</text>
<text x="600.4" y="681.25" text-anchor="middle" class="serif" font-size="12" fill="#1a1a1a" stroke="#1a1a1a" stroke-width="0.15" textLength="21.80" lengthAdjust="spacingAndGlyphs">1118</text>
<text x="716.8" y="649.4" text-anchor="middle" class="serif" font-size="12" fill="#1a1a1a" stroke="#1a1a1a" stroke-width="0.15" textLength="16.35" lengthAdjust="spacingAndGlyphs">185</text>
<text x="834.2" y="681.2" text-anchor="middle" class="serif" font-size="12" fill="#1a1a1a" stroke="#1a1a1a" stroke-width="0.15" textLength="16.35" lengthAdjust="spacingAndGlyphs">360</text>
<text x="716.8" y="748.9" text-anchor="middle" class="serif" font-size="12" fill="#1a1a1a" stroke="#1a1a1a" stroke-width="0.15" textLength="16.35" lengthAdjust="spacingAndGlyphs">337</text>
<text x="630.6" y="798.4" text-anchor="middle" class="serif" font-size="12" fill="#1a1a1a" stroke="#1a1a1a" stroke-width="0.15" textLength="16.35" lengthAdjust="spacingAndGlyphs">324</text>
<text x="803.0" y="798.4" text-anchor="middle" class="serif" font-size="12" fill="#1a1a1a" stroke="#1a1a1a" stroke-width="0.15" textLength="16.35" lengthAdjust="spacingAndGlyphs">120</text>
<text x="716.9" y="883.4" text-anchor="middle" class="serif" font-size="12" fill="#1a1a1a" stroke="#1a1a1a" stroke-width="0.15" textLength="16.35" lengthAdjust="spacingAndGlyphs">435</text>
</svg>
</body></html>
